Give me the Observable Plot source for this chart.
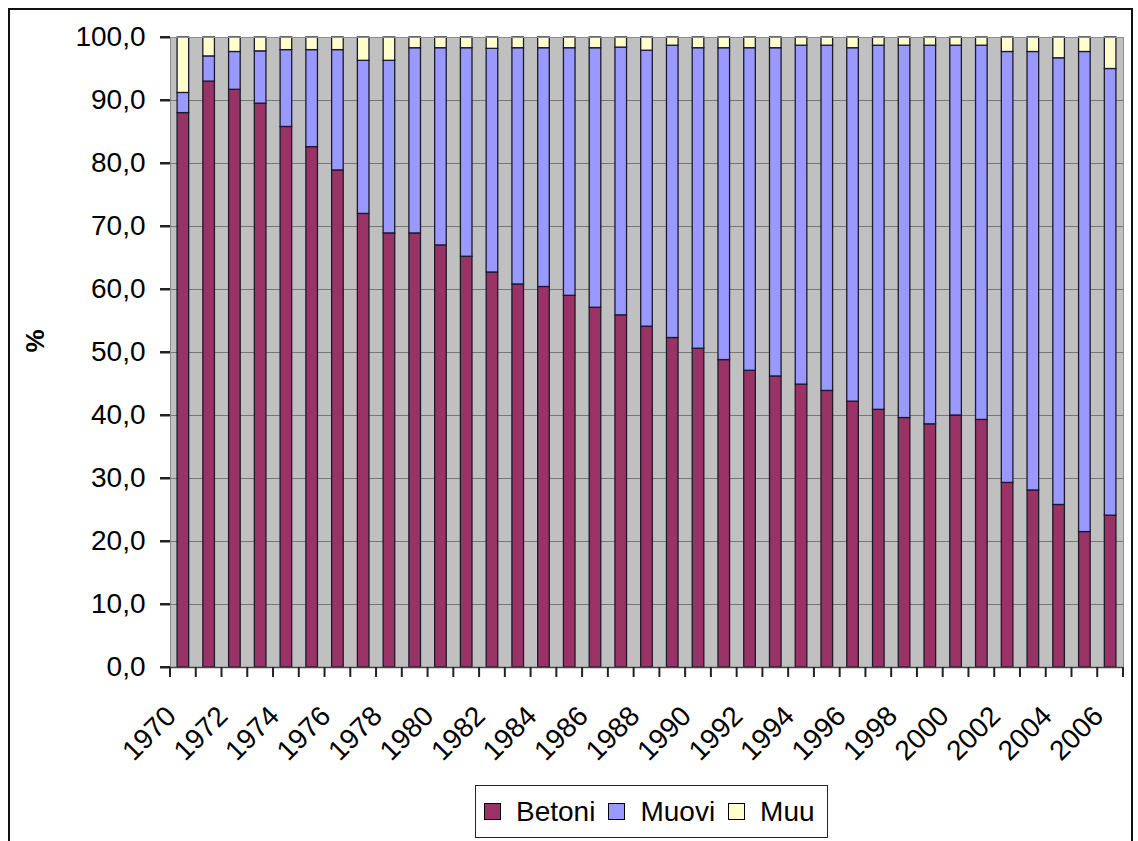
<!DOCTYPE html>
<html>
<head>
<meta charset="utf-8">
<script src="https://cdn.jsdelivr.net/npm/d3@7"></script>
<script src="https://cdn.jsdelivr.net/npm/@observablehq/plot@0.6"></script>
<style>
  body { margin: 0; background: #fff; font-family: "Liberation Sans", Arial, sans-serif; }
  #chart { position: absolute; left: 0; top: 0; }
  #border { position: absolute; left: 8px; top: 8px; width: 1121px; height: 860px; border: 2px solid #111; pointer-events: none; }
  #legend { position: absolute; left: 475px; top: 785px; height: 51px; border: 1px solid #222; background: #fff;
            display: flex; align-items: center; padding: 0 12px 0 8px; font-size: 28px; color: #000; }
  #legend .item { display: flex; align-items: center; margin-right: 13px; }
  #legend .item:last-child { margin-right: 0; }
  #legend .sw { width: 15px; height: 15px; border: 1px solid #000; margin-right: 15px; }
</style>
</head>
<body>
<div id="chart"></div>
<div id="legend"></div>
<div id="border"></div>
<script>
// Share of material by year (%), stacked to 100
const years = [1970, 1971, 1972, 1973, 1974, 1975, 1976, 1977, 1978, 1979,
               1980, 1981, 1982, 1983, 1984, 1985, 1986, 1987, 1988, 1989,
               1990, 1991, 1992, 1993, 1994, 1995, 1996, 1997, 1998, 1999,
               2000, 2001, 2002, 2003, 2004, 2005, 2006];

const betoni = [88.0, 93.0, 91.7, 89.5, 85.8, 82.6, 78.9, 72.0, 68.9, 68.9,
                67.0, 65.2, 62.7, 60.8, 60.4, 59.0, 57.1, 55.9, 54.1, 52.3,
                50.6, 48.8, 47.1, 46.2, 44.9, 43.9, 42.2, 40.9, 39.6, 38.6,
                40.0, 39.3, 29.3, 28.1, 25.8, 21.5, 24.1];

const muovi = [3.2, 4.0, 6.0, 8.3, 12.2, 15.4, 19.1, 24.3, 27.4, 29.4,
               31.3, 33.1, 35.5, 37.5, 37.9, 39.3, 41.2, 42.5, 43.8, 46.4,
               47.7, 49.5, 51.2, 52.1, 53.8, 54.8, 56.1, 57.8, 59.1, 60.1,
               58.7, 59.4, 68.4, 69.6, 70.9, 76.2, 70.9];

const muu = [8.8, 3.0, 2.3, 2.2, 2.0, 2.0, 2.0, 3.7, 3.7, 1.7,
             1.7, 1.7, 1.8, 1.7, 1.7, 1.7, 1.7, 1.6, 2.1, 1.3,
             1.7, 1.7, 1.7, 1.7, 1.3, 1.3, 1.7, 1.3, 1.3, 1.3,
             1.3, 1.3, 2.3, 2.3, 3.3, 2.3, 5.0];

const seriesNames = ["Betoni", "Muovi", "Muu"];
const seriesColors = ["#993366", "#9999FF", "#FFFFCC"];

const yTicks = [0, 10, 20, 30, 40, 50, 60, 70, 80, 90, 100];
const yearLabels = [1970, 1972, 1974, 1976, 1978, 1980, 1982, 1984, 1986, 1988,
                    1990, 1992, 1994, 1996, 1998, 2000, 2002, 2004, 2006];

// Long-form table for the stacked bars
const seriesValues = [betoni, muovi, muu];
const rows = years.flatMap((year, i) =>
  seriesNames.map((series, s) => ({year, series, value: seriesValues[s][i]}))
);

const W = 1138, H = 780;
const ML = 170, MR = 15, MT = 37, MB = 113;
const fmt = d => d.toFixed(1).replace(".", ",");
const tickLen = 10;
const tickW = 2;

const chart = Plot.plot({
  width: W,
  height: H,
  marginLeft: ML,
  marginRight: MR,
  marginTop: MT,
  marginBottom: MB,
  style: {fontFamily: "'Liberation Sans', Arial, sans-serif", fontSize: "28px", color: "#000", background: "transparent"},
  x: {type: "band", domain: years, paddingInner: 0.55, paddingOuter: 0.275, round: false, label: null},
  y: {domain: [0, 100], label: null},
  color: {domain: seriesNames, range: seriesColors},
  marks: [
    Plot.frame({fill: "#C0C0C0", stroke: null}),
    Plot.gridY(yTicks, {stroke: "#767676", strokeOpacity: 1, strokeWidth: 1}),
    Plot.barY(rows, Plot.stackY({
      x: "year", y: "value", fill: "series", order: seriesNames,
      stroke: "#1a1a2a", strokeWidth: 1.3
    })),
    Plot.frame({stroke: "#8c8c8c"}),
    Plot.ruleY([0], {stroke: "#444", strokeWidth: 1.5}),
    Plot.axisY({ticks: yTicks, tickSize: 10, tickPadding: 15, tickFormat: fmt, label: null, fontSize: 28,
                stroke: "#222", strokeWidth: 2, strokeOpacity: 1}),
    // rotated year labels
    Plot.axisX({ticks: yearLabels, tickSize: 0, tickPadding: 40, tickRotate: -45, tickFormat: d => String(d),
                fontSize: 28, dx: -12, dy: 4, label: null}),
    Plot.text(["%"], {text: d => d, frameAnchor: "left", dx: -135, rotate: -90, fontWeight: "bold", fontSize: 26, fill: "#000"})
  ]
});

// Tick marks on the category boundaries and at the y values, placed with the chart's own scales
const xs = chart.scale("x");
const ys = chart.scale("y");
const [r0, r1] = xs.range;
const xStep = Number.isFinite(xs.step) ? xs.step : (r1 - r0) / years.length;
const xBw = Number.isFinite(xs.bandwidth) ? xs.bandwidth : xStep * (1 - xs.paddingInner);
const half = (xStep - xBw) / 2;
const yBase = ys.apply(0);
const xLeft = r0;
const edges = years.map(y => xs.apply(y) - half)
  .concat([xs.apply(years[years.length - 1]) + xBw + half]);

const ns = "http://www.w3.org/2000/svg";
const g = document.createElementNS(ns, "g");
g.setAttribute("fill", "#222");
function tickRect(x, y, w, h) {
  const r = document.createElementNS(ns, "rect");
  r.setAttribute("x", x);
  r.setAttribute("y", y);
  r.setAttribute("width", w);
  r.setAttribute("height", h);
  g.appendChild(r);
}
for (const ex of edges) tickRect(ex - tickW / 2, yBase, tickW, tickLen);
for (const t of yTicks) tickRect(xLeft - tickLen, ys.apply(t) - tickW / 2, tickLen, tickW);
chart.appendChild(g);

document.getElementById("chart").appendChild(chart);

// Legend
const legend = document.getElementById("legend");
seriesNames.forEach((name, i) => {
  const item = document.createElement("div");
  item.className = "item";
  const sw = document.createElement("div");
  sw.className = "sw";
  sw.style.background = seriesColors[i];
  const label = document.createElement("span");
  label.textContent = name;
  item.appendChild(sw);
  item.appendChild(label);
  legend.appendChild(item);
});
</script>
</body>
</html>
